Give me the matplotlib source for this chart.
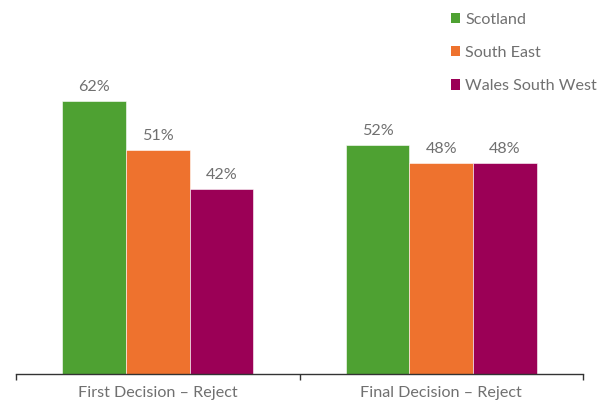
import matplotlib.pyplot as plt
import numpy as np
from matplotlib.patches import Patch

categories = ["First Decision \u2013 Reject", "Final Decision \u2013 Reject"]
series = ["Scotland", "South East", "Wales South West"]
scotland = [62, 52]
south_east = [51, 48]
wales_sw = [42, 48]
colors = ["#4EA132", "#EE722E", "#9B0056"]

plt.rcParams['font.family'] = ['Lato', 'DejaVu Sans']
txt = "#707070"
fs = 11.6

fig = plt.figure(figsize=(6.05, 4.03), dpi=100)
ax = fig.add_axes([16/605, 29/403, 567/605, 352/403])

x = np.arange(len(categories))
w = 0.224
for i, (vals, c) in enumerate(zip([scotland, south_east, wales_sw], colors)):
    pos = x + (i - 1) * w
    ax.bar(pos, vals, width=w, color=c, edgecolor="white", linewidth=0.4)
    for p, v in zip(pos, vals):
        ax.text(p, v + 1.6, f"{v}%", ha="center", va="bottom", fontsize=fs, color=txt)

ax.set_xlim(-0.5, 1.5)
ax.set_ylim(0, 80)
ax.set_yticks([])
for s in ["top", "right", "left"]:
    ax.spines[s].set_visible(False)
ax.spines["bottom"].set_color("#333333")
ax.spines["bottom"].set_linewidth(1)
ax.set_xticks(x)
ax.set_xticklabels(categories, fontsize=fs, color=txt)
ax.tick_params(axis="x", which="major", length=0, pad=9)
ax.set_xticks([-0.5, 0.5, 1.5], minor=True)
ax.tick_params(axis="x", which="minor", length=4, width=1, color="#333333")

handles = [Patch(facecolor=c, edgecolor="none") for c in colors]
leg = fig.legend(handles, series, loc="upper left", bbox_to_anchor=(436/605, 1 + 2/403),
                 frameon=False, fontsize=fs, labelcolor=txt,
                 handlelength=0.6, handleheight=0.6, handletextpad=0.3, labelspacing=1.2)

fig.savefig("out.png", dpi=100)
